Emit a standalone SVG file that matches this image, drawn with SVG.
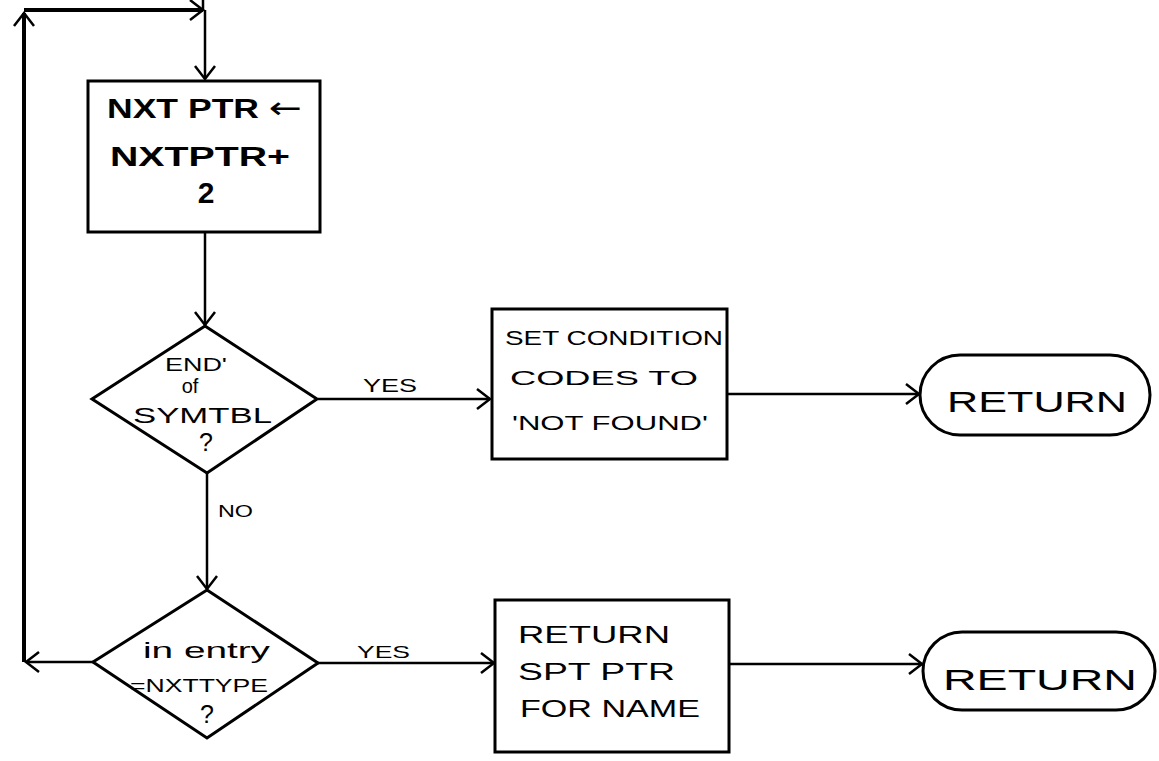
<svg xmlns="http://www.w3.org/2000/svg" width="1159" height="761" viewBox="0 0 1159 761">
<style>
.shape{fill:none;stroke:#000;stroke-width:3}
.conn{fill:none;stroke:#000;stroke-width:2.5}
.thick{stroke-width:4}
text{font-family:"Liberation Sans","DejaVu Sans",sans-serif;fill:#000}
.b{font-weight:bold}
</style>
<defs>
<marker id="arr" markerUnits="userSpaceOnUse" markerWidth="30" markerHeight="30" viewBox="-16 -15 20 30" refX="0" refY="0" orient="auto">
<path d="M -13 -10 L 0 0 L -13 10" fill="none" stroke="#000" stroke-width="2.5"/>
</marker>
</defs>
<rect width="1159" height="761" fill="#fff"/>
<g id="connectors">
<line class="conn" x1="203" y1="0" x2="203" y2="10"/>
<line class="conn thick" x1="24" y1="10" x2="203" y2="10" marker-end="url(#arr)"/>
<line class="conn" x1="205" y1="10" x2="205" y2="79" marker-end="url(#arr)"/>
<line class="conn" x1="205" y1="232" x2="205" y2="325" marker-end="url(#arr)"/>
<line class="conn" x1="318" y1="399" x2="490" y2="399" marker-end="url(#arr)"/>
<line class="conn" x1="727" y1="394" x2="919" y2="394" marker-end="url(#arr)"/>
<line class="conn" x1="207" y1="473" x2="207" y2="589" marker-end="url(#arr)"/>
<line class="conn" x1="93" y1="662" x2="26" y2="662" marker-end="url(#arr)"/>
<line class="conn thick" x1="24" y1="662" x2="24" y2="13" marker-end="url(#arr)"/>
<line class="conn" x1="318" y1="663" x2="494" y2="663" marker-end="url(#arr)"/>
<line class="conn" x1="729" y1="664" x2="922" y2="664" marker-end="url(#arr)"/>
<text x="363" y="392" font-size="18" textLength="54" lengthAdjust="spacingAndGlyphs">YES</text>
<text x="218" y="517" font-size="17" textLength="35" lengthAdjust="spacingAndGlyphs">NO</text>
<text x="357" y="658" font-size="17" textLength="53" lengthAdjust="spacingAndGlyphs">YES</text>
</g>
<g id="n1">
<rect class="shape" x="88" y="81" width="232" height="151"/>
<text class="b" x="107" y="118" font-size="27" textLength="195" lengthAdjust="spacingAndGlyphs">NXT PTR <tspan font-family="DejaVu Sans, sans-serif" font-weight="normal" font-size="30">←</tspan></text>
<text class="b" x="110" y="166" font-size="27" textLength="180" lengthAdjust="spacingAndGlyphs">NXTPTR+</text>
<text class="b" x="206" y="203" font-size="30" text-anchor="middle">2</text>
</g>
<g id="d1">
<polygon class="shape" points="205,326 317,399 207,473 92,399"/>
<text x="165" y="371" font-size="18" textLength="62" lengthAdjust="spacingAndGlyphs">END'</text>
<text x="190" y="393" font-size="20" text-anchor="middle">of</text>
<text x="133" y="423" font-size="22" textLength="139" lengthAdjust="spacingAndGlyphs">SYMTBL</text>
<text x="206" y="451" font-size="25" text-anchor="middle">?</text>
</g>
<g id="n2">
<rect class="shape" x="492" y="309" width="235" height="150"/>
<text x="505" y="345" font-size="20" textLength="218" lengthAdjust="spacingAndGlyphs">SET CONDITION</text>
<text x="510" y="385" font-size="20" textLength="188" lengthAdjust="spacingAndGlyphs">CODES  TO</text>
<text x="512" y="430" font-size="20" textLength="196" lengthAdjust="spacingAndGlyphs">'NOT FOUND'</text>
</g>
<g id="t1">
<rect class="shape" x="920" y="355" width="230" height="80" rx="40"/>
<text x="947" y="412" font-size="30" textLength="180" lengthAdjust="spacingAndGlyphs">RETURN</text>
</g>
<g id="d2">
<polygon class="shape" points="207,590 318,663 207,738 93,662"/>
<text x="143" y="658" font-size="22" textLength="127" lengthAdjust="spacingAndGlyphs">in entry</text>
<text x="130" y="692" font-size="18" textLength="138" lengthAdjust="spacingAndGlyphs">=NXTTYPE</text>
<text x="207" y="723" font-size="25" text-anchor="middle">?</text>
</g>
<g id="n3">
<rect class="shape" x="495" y="600" width="234" height="152"/>
<text x="518" y="643" font-size="24" textLength="152" lengthAdjust="spacingAndGlyphs">RETURN</text>
<text x="518" y="680" font-size="24" textLength="157" lengthAdjust="spacingAndGlyphs">SPT PTR</text>
<text x="520" y="717" font-size="24" textLength="180" lengthAdjust="spacingAndGlyphs">FOR NAME</text>
</g>
<g id="t2">
<rect class="shape" x="923" y="632" width="232" height="78" rx="39"/>
<text x="943" y="690" font-size="30" textLength="194" lengthAdjust="spacingAndGlyphs">RETURN</text>
</g>
</svg>
